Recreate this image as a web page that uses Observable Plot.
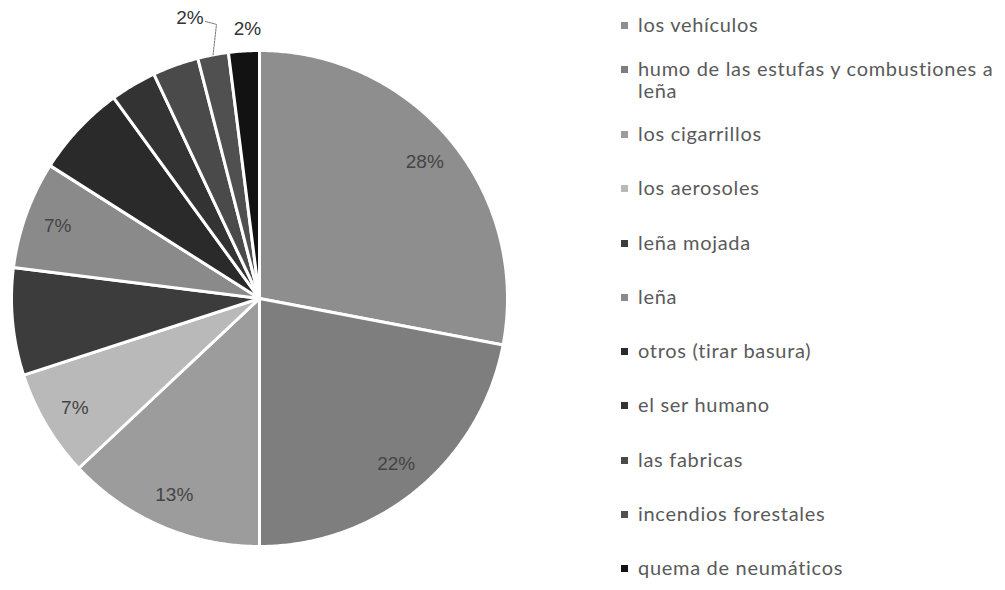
<!DOCTYPE html>
<html><head><meta charset="utf-8">
<script src="https://cdn.jsdelivr.net/npm/d3@7"></script>
<script src="https://cdn.jsdelivr.net/npm/@observablehq/plot@0.6"></script>
<style>
body{margin:0;background:#fff;}
#wrap{position:relative;width:1005px;height:590px;overflow:hidden;}
#chart{position:absolute;left:0;top:0;}
#legend{position:absolute;left:621px;top:13px;width:382px;font-family:Lato,"Open Sans",sans-serif;font-size:20px;letter-spacing:0.7px;color:#5a5a5a;}
.item{display:flex;align-items:flex-start;line-height:22px;height:54.25px;}
.item:nth-child(1){height:44px;}
.item:nth-child(2){height:65px;}
.sw{width:7px;height:7px;margin:9px 10px 0 0;flex:none;}
</style></head><body>
<div id="wrap"><div id="chart"></div><div id="legend"></div></div>
<script>
const categories = ["los vehículos","humo de las estufas y combustiones a leña","los cigarrillos","los aerosoles","leña mojada","leña","otros (tirar basura)","el ser humano","las fabricas","incendios forestales","quema de neumáticos"];
const values = [28,22,13,7,7,7,6,3,3,2,2];
const grays = ["#8e8e8e","#7e7e7e","#9c9c9c","#b9b9b9","#3c3c3c","#8a8a8a","#2a2a2a","#333333","#4a4a4a","#505050","#121212"];
const labelShown = [true,true,true,true,false,true,false,false,false,true,true];

const total = d3.sum(values);
const slices = [];
let acc = 0;
values.forEach((v, i) => {
  const a0 = acc / total * 2 * Math.PI;
  acc += v;
  const a1 = acc / total * 2 * Math.PI;
  slices.push({name: categories[i], value: v, a0, a1, mid: (a0 + a1) / 2, i});
});

const polys = [];
for (const s of slices) {
  polys.push({name: s.name, x: 0, y: 0});
  const n = Math.max(2, Math.ceil((s.a1 - s.a0) / (Math.PI / 360)));
  for (let k = 0; k <= n; k++) {
    const a = s.a0 + (s.a1 - s.a0) * k / n;
    polys.push({name: s.name, x: Math.sin(a), y: Math.cos(a)});
  }
  polys.push({name: s.name, x: 0, y: 0});
}

const polar = (a, r) => ({x: r * Math.sin(a), y: r * Math.cos(a)});
const pct = s => Math.round(s.value / total * 100) + "%";
const last = slices.length - 1;
const inner = slices.filter(s => labelShown[s.i] && s.value >= 3).map(s => ({...polar(s.mid, 0.865), text: pct(s)}));
const outerQ = slices.filter(s => labelShown[s.i] && s.value < 3 && s.i === last).map(s => ({...polar(s.mid, 1.09), text: pct(s)}));
const outerI = slices.filter(s => labelShown[s.i] && s.value < 3 && s.i !== last).map(s => ({...polar(s.mid, 1.0), text: pct(s)}));
const leader = [];
slices.filter(s => labelShown[s.i] && s.value < 3 && s.i !== last).forEach(s => {
  const p1 = polar(s.mid, 1.0);
  leader.push({...p1, k: s.name}, {x: p1.x + 0.014, y: p1.y + 0.123, k: s.name}, {x: p1.x - 0.031, y: p1.y + 0.135, k: s.name});
});

const font = "Liberation Sans, Arial, sans-serif";
const chart = Plot.plot({
  width: 520, height: 590,
  marginLeft: 11, marginRight: 13, marginTop: 50, marginBottom: 44,
  x: {domain: [-1, 1], axis: null},
  y: {domain: [-1, 1], axis: null},
  color: {type: "ordinal", domain: categories, range: grays},
  style: {background: "#fff"},
  marks: [
    Plot.line(polys, {x: "x", y: "y", z: "name", fill: "name", stroke: "white", strokeWidth: 3, strokeLinejoin: "round"}),
    Plot.text(inner, {x: "x", y: "y", text: "text", fill: "#444", fontSize: 19, fontFamily: font}),
    Plot.line(leader, {x: "x", y: "y", z: "k", stroke: "#777", strokeWidth: 1, strokeDasharray: "2,1"}),
    Plot.text(outerI, {x: "x", y: "y", text: "text", fill: "#333", fontSize: 19, fontFamily: font, dx: -23, dy: -37}),
    Plot.text(outerQ, {x: "x", y: "y", text: "text", fill: "#333", fontSize: 19, fontFamily: font, dx: 5, dy: 0})
  ]
});
document.getElementById("chart").appendChild(chart);

const leg = d3.select("#legend");
categories.forEach((c, i) => {
  const it = leg.append("div").attr("class", "item");
  it.append("div").attr("class", "sw").style("background", grays[i]);
  it.append("div").text(c);
});
</script>
</body></html>
